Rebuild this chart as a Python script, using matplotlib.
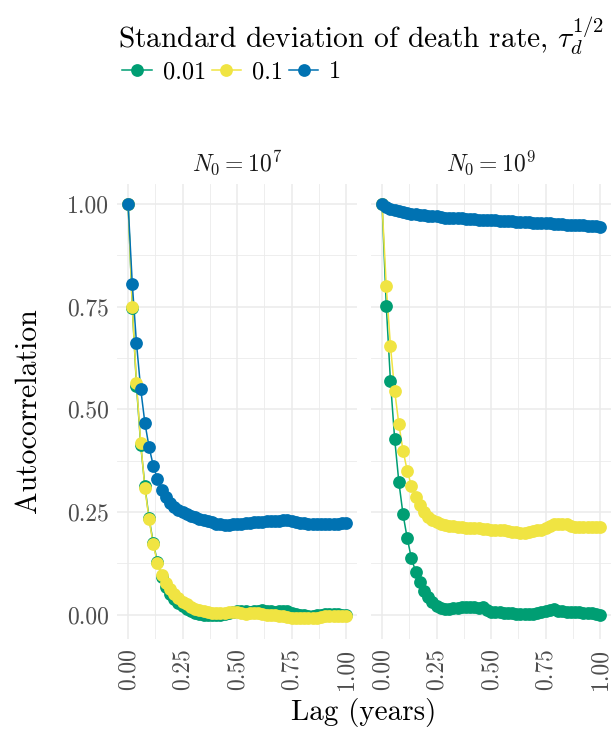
import numpy as np
import matplotlib
matplotlib.use("Agg")
import matplotlib.pyplot as plt
from matplotlib.lines import Line2D
from matplotlib.ticker import MultipleLocator, FuncFormatter

plt.rcParams['font.family'] = ['cmr10', 'DejaVu Serif']
plt.rcParams['mathtext.fontset'] = 'cm'
plt.rcParams['axes.formatter.use_mathtext'] = True

# weekly lags over one year
lag = np.arange(53) / 52

sd_levels = ["0.01", "0.1", "1"]
colors = {"0.01": "#009E73", "0.1": "#F0E442", "1": "#0072B2"}
panels = [r"$N_0 = 10^7$", r"$N_0 = 10^9$"]

# N0 = 1e7
acf_n7_001 = [1.000, 0.748, 0.558, 0.414, 0.313, 0.235, 0.175, 0.128, 0.092, 0.068,
              0.050, 0.038, 0.028, 0.020, 0.014, 0.009, 0.005, 0.002, 0.000, -0.002,
              -0.002, -0.001, 0.000, 0.002, 0.004, 0.006, 0.008, 0.009, 0.008, 0.007,
              0.008, 0.010, 0.011, 0.010, 0.008, 0.007, 0.009, 0.010, 0.008, 0.005,
              0.002, 0.000, -0.002, -0.003, -0.004, -0.002, 0.000, 0.001, 0.002, 0.002,
              0.001, 0.000, 0.000]
acf_n7_01 = [1.000, 0.750, 0.563, 0.419, 0.309, 0.232, 0.172, 0.125, 0.097, 0.078,
             0.062, 0.050, 0.040, 0.032, 0.025, 0.019, 0.014, 0.011, 0.008, 0.006,
             0.004, 0.003, 0.004, 0.005, 0.006, 0.007, 0.006, 0.005, 0.002, 0.003,
             0.005, 0.003, 0.001, 0.000, -0.001, -0.002, -0.003, -0.004, -0.006, -0.008,
             -0.009, -0.008, -0.007, -0.008, -0.009, -0.007, -0.005, -0.004, -0.003, -0.004,
             -0.004, -0.003, -0.003]
acf_n7_1 = [1.000, 0.805, 0.661, 0.550, 0.467, 0.408, 0.363, 0.330, 0.304, 0.286,
            0.272, 0.262, 0.255, 0.250, 0.245, 0.241, 0.237, 0.234, 0.231, 0.228,
            0.225, 0.222, 0.220, 0.219, 0.219, 0.220, 0.221, 0.222, 0.223, 0.224,
            0.225, 0.225, 0.226, 0.227, 0.228, 0.229, 0.229, 0.230, 0.230, 0.229,
            0.226, 0.224, 0.223, 0.222, 0.221, 0.220, 0.220, 0.220, 0.221, 0.221,
            0.222, 0.223, 0.224]

# N0 = 1e9
acf_n9_001 = [1.000, 0.752, 0.568, 0.428, 0.323, 0.244, 0.186, 0.137, 0.105, 0.079,
              0.058, 0.042, 0.030, 0.022, 0.017, 0.014, 0.015, 0.016, 0.017, 0.018,
              0.018, 0.018, 0.018, 0.017, 0.018, 0.012, 0.007, 0.006, 0.006, 0.005,
              0.004, 0.003, 0.002, 0.001, 0.001, 0.001, 0.002, 0.004, 0.006, 0.008,
              0.012, 0.014, 0.010, 0.008, 0.007, 0.007, 0.007, 0.006, 0.005, 0.004,
              0.003, 0.001, -0.002]
acf_n9_01 = [1.000, 0.800, 0.654, 0.545, 0.464, 0.399, 0.351, 0.313, 0.287, 0.266,
             0.250, 0.239, 0.231, 0.226, 0.222, 0.219, 0.217, 0.215, 0.214, 0.213,
             0.212, 0.211, 0.211, 0.210, 0.209, 0.208, 0.207, 0.207, 0.206, 0.205,
             0.204, 0.202, 0.201, 0.200, 0.200, 0.201, 0.203, 0.205, 0.207, 0.211,
             0.216, 0.220, 0.222, 0.222, 0.220, 0.217, 0.214, 0.213, 0.213, 0.214,
             0.214, 0.214, 0.214]
acf_n9_1 = [1.000, 0.993, 0.988, 0.985, 0.982, 0.980, 0.978, 0.976, 0.975, 0.974,
            0.973, 0.972, 0.971, 0.970, 0.968, 0.967, 0.967, 0.966, 0.965, 0.965,
            0.964, 0.964, 0.963, 0.962, 0.962, 0.961, 0.960, 0.960, 0.959, 0.959,
            0.958, 0.958, 0.957, 0.957, 0.956, 0.956, 0.955, 0.955, 0.954, 0.953,
            0.953, 0.952, 0.952, 0.951, 0.950, 0.950, 0.949, 0.948, 0.948, 0.947,
            0.946, 0.946, 0.945]

data = [
    {"0.01": acf_n7_001, "0.1": acf_n7_01, "1": acf_n7_1},
    {"0.01": acf_n9_001, "0.1": acf_n9_01, "1": acf_n9_1},
]

fig = plt.figure(figsize=(6.12, 7.5), dpi=100)
grid_col = "#EBEBEB"
text_col = "#4D4D4D"
msize = 9.2

axes = [fig.add_axes([0.1915, 0.1476, 0.392, 0.6077]),
        fig.add_axes([0.6065, 0.1476, 0.392, 0.6077])]

fmt = FuncFormatter(lambda v, p: f"{v:.2f}")

for k, ax in enumerate(axes):
    # lines first, then points (like geom_line + geom_point)
    for s in sd_levels:
        ax.plot(lag, data[k][s], color=colors[s], lw=1.1, zorder=2)
    for s in sd_levels:
        ax.plot(lag, data[k][s], ls="none", marker="o", ms=msize,
                color=colors[s], mec="none", zorder=3)
    ax.set_xlim(-0.05, 1.05)
    ax.set_ylim(-0.06, 1.05)
    ax.xaxis.set_major_locator(MultipleLocator(0.25))
    ax.xaxis.set_minor_locator(MultipleLocator(0.125))
    ax.yaxis.set_major_locator(MultipleLocator(0.25))
    ax.yaxis.set_minor_locator(MultipleLocator(0.125))
    ax.grid(which="major", color=grid_col, lw=1.1, zorder=0)
    ax.grid(which="minor", color=grid_col, lw=0.6, zorder=0)
    ax.set_axisbelow(True)
    for sp in ax.spines.values():
        sp.set_visible(False)
    ax.tick_params(which="both", length=0, colors=text_col, labelsize=17, pad=6)
    ax.xaxis.set_major_formatter(fmt)
    ax.yaxis.set_major_formatter(fmt)
    for lbl in ax.get_xticklabels():
        lbl.set_rotation(90)
    ax.set_title(panels[k], fontsize=17, color="#1A1A1A", pad=9)
    if k == 1:
        ax.tick_params(axis="y", labelleft=False)

fig.text(0.595, 0.05, "Lag (years)", ha="center", va="center", fontsize=21)
fig.text(0.046, 0.452, "Autocorrelation", ha="center", va="center", rotation=90, fontsize=21.5)

# legend on top
fig.text(0.193, 0.953, r"Standard deviation of death rate, $\tau_d^{1/2}$",
         ha="left", va="center", fontsize=21.2)
handles = [Line2D([0], [0], color=colors[s], lw=1.1, marker="o", ms=msize, mec="none")
           for s in sd_levels]
fig.legend(handles, sd_levels, loc="center left", bbox_to_anchor=(0.2, 0.904),
           ncol=3, frameon=False, fontsize=17.5, handlelength=1.2, handletextpad=0.45,
           columnspacing=0.25, borderpad=0, borderaxespad=0)

fig.savefig("out.png", dpi=100)
